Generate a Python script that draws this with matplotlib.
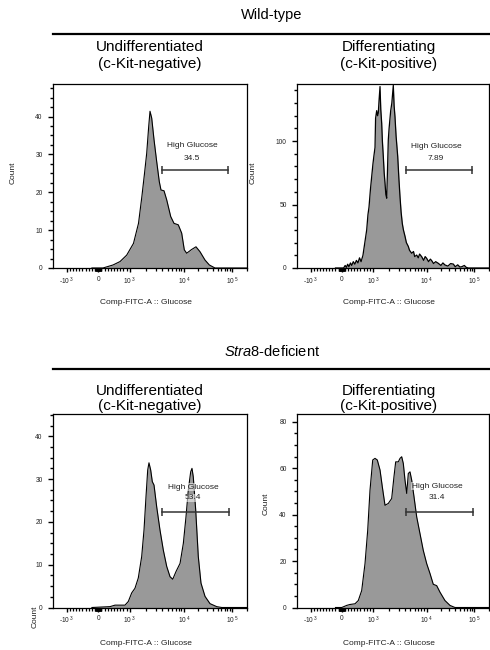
import matplotlib
matplotlib.use('Agg')
import matplotlib.pyplot as plt
from matplotlib.lines import Line2D
import numpy as np

plt.rcParams['font.family'] = ['Liberation Sans', 'DejaVu Sans']
plt.rcParams['mathtext.fontset'] = 'custom'
plt.rcParams['mathtext.rm'] = 'Liberation Sans'
plt.rcParams['mathtext.it'] = 'Liberation Sans:italic'

# histogram data (fluorescence value, count)
wt_undiff_x = [-200, 152, 470, 692, 904, 1173, 1452, 1676, 1874, 2056, 2239, 2366, 2543, 2805,
               3143, 3510, 3773, 4289, 4808, 5696, 6551, 7870, 9085, 10170, 11400, 14490,
               17800, 21560, 27400, 33700, 44200, 200000]
wt_undiff_y = [0, 0, 0.8, 1.7, 3.4, 6.5, 11.8, 18.9, 25, 30.3, 37.4, 41.4, 39.6, 33.9,
               28.1, 22.8, 20.6, 20.4, 18, 13.6, 11.8, 11.4, 9.2, 4.8, 3.9, 4.9,
               5.6, 4.3, 2.1, 0.8, 0, 0]

wt_diff_x = [-200, 60, 110, 150, 190, 230, 280, 320, 370, 420, 470, 520, 570, 620, 680, 740,
             800, 840, 874, 920, 960, 1000, 1040, 1093, 1120, 1175, 1220, 1258, 1300, 1355,
             1400, 1456, 1500, 1560, 1620, 1678, 1740, 1806, 1870, 1933, 2000, 2143, 2250,
             2397, 2480, 2578, 2700, 2895, 3050, 3196, 3350, 3527, 3700, 3959, 4200, 4563,
             4800, 5277, 5700, 6000, 6537, 7000, 7400, 8106, 8800, 9400, 10040, 11000, 12000,
             12800, 14000, 15500, 17600, 20000, 22000, 24300, 28000, 32000, 36400, 40000,
             45000, 50000, 54600, 62000, 68000, 75100, 200000]
wt_diff_y = [0, 0, 2, 0.5, 3, 1, 4, 2, 5, 3, 6, 4, 8, 5, 10, 20,
             30, 42, 48, 62, 72, 82, 88, 95, 118, 124, 120, 122, 132, 143,
             125, 114, 100, 88, 75, 67, 58, 55, 78, 101, 110, 124, 130,
             144, 128, 119, 104, 88, 70, 56, 44, 35, 30, 25, 20, 17,
             14, 11.6, 13, 9, 10.2, 8, 11, 8.9, 6, 9, 7.6, 5, 7,
             5.8, 3.5, 5, 3.7, 2, 4, 2.4, 1.5, 3.5, 3.1, 1,
             2.5, 0.8, 1, 2, 0.5, 0, 0]

ko_undiff_x = [-200, 374, 533, 850, 955, 1087, 1250, 1439, 1662, 1834, 1996, 2145, 2265, 2436,
               2608, 2805, 3143, 3614, 4164, 4808, 5534, 6209, 7143, 8472, 9750, 11030, 12310,
               13810, 14690, 15630, 17540, 19870, 22600, 27400, 34800, 48000, 61000, 200000]
ko_undiff_y = [0, 0.2, 0.55, 0.55, 1.4, 3.4, 4.5, 6.9, 11.9, 18.1, 25.9, 32.1, 33.8, 32.1,
               29.4, 28.6, 23.5, 18.1, 13.4, 9.6, 7.2, 6.6, 8.4, 10.3, 15, 21.2, 27.4,
               31.7, 32.5, 30.5, 22.8, 11.9, 5.7, 2.6, 0.9, 0.2, 0, 0]

ko_diff_x = [-200, 0, 159, 265, 425, 531, 640, 746, 832, 906, 993, 1093, 1206, 1355, 1496,
             1678, 1933, 2234, 2466, 2654, 2970, 3196, 3436, 3680, 3959, 4260, 4563, 4906,
             5277, 5830, 6537, 7530, 8670, 10040, 11800, 13800, 16300, 19100, 24300, 31000,
             39400, 200000]
ko_diff_y = [0, 0, 0.9, 1.3, 1.6, 3, 7.3, 18.9, 33.2, 50.5, 63.5, 64.2, 63.5, 59.2, 51.9,
             44, 44.8, 46.9, 56.3, 62.7, 62.7, 64.2, 64.9, 62, 54.8, 49.1, 57.7, 58.4,
             54.8, 47.6, 39, 31.8, 24.6, 18.9, 14.6, 10, 9.4, 6.6, 3, 0.9,
             0, 0]

# gates: (low, high, y, text_x, label_y, value_y, percent)
gates = [
    (3940, 82000, 25.9, 14600, 32.3, 29.0, '34.5'),
    (4140, 90000, 77.0, 15800, 96.0, 86.6, '7.89'),
    (3940, 86000, 22.4, 15500, 28.1, 25.6, '53.4'),
    (4140, 94000, 41.1, 16500, 52.2, 47.2, '31.4'),
]
ymaxes = [48.6, 145, 45.2, 83.3]
ymajor = [[0, 10, 20, 30, 40], [0, 50, 100], [0, 10, 20, 30, 40], [0, 20, 40, 60, 80]]
ystep = [2.5, 10, 2.5, 5]

xmajor = [-1000, 0, 1000, 10000, 100000]
xmajor_labels = [r'-10$^{\,3}$', '0', r'10$^{\,3}$', r'10$^{\,4}$', r'10$^{\,5}$']
xminor = ([-v for v in range(100, 1000, 100)] + [-v for v in range(10, 100, 10)] +
          list(range(10, 100, 10)) + list(range(100, 1000, 100)) +
          list(range(2000, 10000, 1000)) + list(range(20000, 100000, 10000)) + [200000])


# biexponential-like display scale
def fwd(v):
    v = np.asarray(v, dtype=float)
    lin = 0.233 + v * 0.1625e-3
    lg = np.log10(np.maximum(v, 1000.0))
    logpart = np.where(lg <= 4, 0.3955 + (lg - 3) * 0.2795, 0.675 + (lg - 4) * 0.248)
    return np.where(v <= 1000, lin, logpart)


def inv(u):
    u = np.asarray(u, dtype=float)
    lin = (u - 0.233) / 0.1625e-3
    lg = np.where(u <= 0.675, 3 + (u - 0.3955) / 0.2795, 4 + (u - 0.675) / 0.248)
    return np.where(u <= 0.3955, lin, 10 ** np.clip(lg, 3, 8))


fig = plt.figure(figsize=(4.9, 6.5), dpi=100)
W, H = 490.0, 650.0

boxes = [(53, 247, 84, 268), (297, 489, 84, 268), (53, 247, 414, 607.5), (297, 489, 414, 607.5)]
data = [(wt_undiff_x, wt_undiff_y), (wt_diff_x, wt_diff_y),
        (ko_undiff_x, ko_undiff_y), (ko_diff_x, ko_diff_y)]
ylab_pos = [(-0.186, 0.516), (-0.21, 0.516), (-0.075, -0.05), (-0.14, 0.535)]

for i in range(4):
    l, r, t, b = boxes[i]
    ax = fig.add_axes([l / W, 1 - b / H, (r - l) / W, (b - t) / H])
    ax.set_xscale('function', functions=(fwd, inv))
    xs, ys = data[i]
    lw = 0.9 if i == 1 else 0.8
    ax.fill_between(xs, ys, color='#999999', lw=0)
    ax.plot(xs, ys, color='black', lw=lw)
    ax.set_xlim(float(inv(0.0)), float(inv(1.0)))
    ax.set_ylim(0, ymaxes[i])

    ax.set_xticks(xmajor)
    ax.set_xticklabels(xmajor_labels)
    ax.set_xticks(xminor, minor=True)
    ax.set_yticks(ymajor[i])
    ax.set_yticks(np.arange(0, ymaxes[i], ystep[i]), minor=True)
    ax.tick_params(axis='both', which='major', labelsize=4.8, labelcolor='#222222',
                   width=1.0, direction='out')
    ax.tick_params(axis='x', which='major', length=3.0, pad=2.5)
    ax.tick_params(axis='x', which='minor', length=1.8, width=0.9)
    ax.tick_params(axis='y', which='major', length=3.5, pad=4)
    ax.tick_params(axis='y', which='minor', length=2.2, width=1.0)
    for s in ax.spines.values():
        s.set_linewidth(0.9)

    ax.set_xlabel('Comp-FITC-A :: Glucose', fontsize=6, color='#222222')
    ax.xaxis.set_label_coords(0.478, -0.17)
    ax.set_ylabel('Count', fontsize=6, color='#222222')
    ax.yaxis.set_label_coords(*ylab_pos[i])

    g0, g1, gy, tx, ty1, ty2, pct = gates[i]
    ax.plot([g0, g1], [gy, gy], color='#333333', lw=1.1, marker='|', ms=6, mew=1.1)
    box = dict(facecolor='white', alpha=0.55, edgecolor='none', pad=0.2)
    ax.text(tx, ty1, 'High Glucose', fontsize=6, ha='center', va='center', color='#222222', bbox=box)
    ax.text(tx, ty2, pct, fontsize=6, ha='center', va='center', color='#222222', bbox=box)

# group headers and panel titles
headers = [('Wild-type', 15, 33.5), (r'$\mathit{Stra8}$-deficient', 351, 369)]
for text, ty, ly in headers:
    fig.text(272 / W, 1 - ty / H, text, fontsize=10.5, ha='center', va='center')
    fig.add_artist(Line2D([53 / W, 1.0], [1 - ly / H, 1 - ly / H], color='black', lw=1.6))

titles = [('Undifferentiated', '(c-Kit-negative)', 150, 47, 64),
          ('Differentiating', '(c-Kit-positive)', 389, 47, 64),
          ('Undifferentiated', '(c-Kit-negative)', 150, 391, 406),
          ('Differentiating', '(c-Kit-positive)', 389, 391, 406)]
for t1, t2, cx, y1, y2 in titles:
    fig.text(cx / W, 1 - y1 / H, t1, fontsize=11, ha='center', va='center')
    fig.text(cx / W, 1 - y2 / H, t2, fontsize=11, ha='center', va='center')

fig.savefig('out.png', dpi=100)
